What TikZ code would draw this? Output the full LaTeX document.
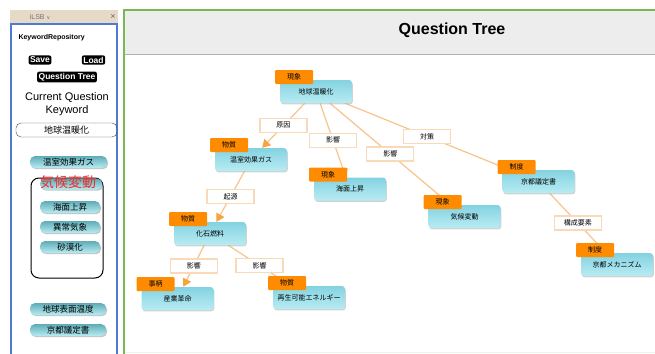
\documentclass[tikz,border=0pt]{standalone}
\usepackage{fontspec}
\setmainfont{Liberation Sans}
\newfontfamily\jp{Noto Sans CJK JP}
\newfontfamily\symfont{DejaVu Sans}
\usetikzlibrary{arrows.meta,shadows}

\definecolor{tagorange}{HTML}{FF8C00}
\definecolor{edgeorange}{HTML}{F8C48C}
\definecolor{tiporange}{HTML}{F7A43C}
\definecolor{labelline}{HTML}{FAD9B8}
\definecolor{boxtop}{HTML}{84D2E1}
\definecolor{boxbottom}{HTML}{B8ECF3}
\definecolor{panelblue}{HTML}{4E7BCF}
\definecolor{panelgreen}{HTML}{78B855}
\definecolor{tabbeige}{HTML}{E6D9C7}
\definecolor{titlegray}{HTML}{EDEDED}
\definecolor{keyred}{HTML}{F52A2A}

\pgfdeclarelayer{back}
\pgfdeclarelayer{bg}
\pgfsetlayers{back,bg,main}

\begin{document}
\begin{tikzpicture}[x=1pt,y=-1pt,
  concept/.style={rounded corners=3pt,minimum width=72pt,minimum height=23pt,
    inner sep=0pt,top color=boxtop,bottom color=boxbottom,draw=none,
    drop shadow={shadow xshift=0.8pt,shadow yshift=-1.4pt,fill=black!35},
    font=\fontsize{7}{8}\selectfont\jp},
  tag/.style={rounded corners=1pt,minimum width=38pt,minimum height=14pt,
    inner sep=0pt,fill=tagorange,anchor=north west,font=\fontsize{7}{8}\selectfont\jp},
  elabel/.style={draw=labelline,fill=white,text=black,minimum width=47pt,minimum height=14pt,
    inner sep=0pt,font=\fontsize{7}{8}\selectfont\jp},
  edge/.style={edgeorange,line width=1.2pt,
    -{Triangle[length=8pt,width=9pt,color=tiporange,fill=tiporange]}},
  pill/.style={rounded corners=5pt,minimum height=12pt,inner sep=0pt,
    top color=boxtop!90!cyan!80!black,bottom color=boxbottom,
    drop shadow={shadow xshift=1pt,shadow yshift=-1.2pt,fill=black!45},
    font=\fontsize{8.5}{9}\selectfont\jp},
  blackbtn/.style={fill=black,rounded corners=2pt,inner sep=1.5pt,text=white,
    font=\fontsize{8.5}{9}\selectfont\bfseries}]
\useasboundingbox (0,0) rectangle (655,353);

% window frames
\begin{pgfonlayer}{back}
\fill[white] (0,0) rectangle (655,353);
\fill[tabbeige] (10,10) rectangle (118,23);
\fill[titlegray] (125,11) rectangle (655,54);
\draw[black!30,line width=1.5pt] (125,54.5) -- (655,54.5);
\draw[green!40!black!8,line width=1pt] (125,352) -- (655,352);
\end{pgfonlayer}
\node[font=\fontsize{7}{8}\selectfont,text=black!55] (tabname) at (40,17) {iLSB {\symfont\fontsize{5}{6}\selectfont∨}};
\node[font=\fontsize{9}{9}\selectfont,text=black!60] (tabclose) at (113,17) {×};
\draw[panelblue,line width=2pt] (11,356) -- (11,24.5) -- (117,24.5) -- (117,356);
\draw[panelgreen,line width=2pt] (124,356) -- (124,10) -- (656,10);
\node[font=\fontsize{16}{18}\selectfont\bfseries] (title) at (452,30) {Question Tree};

% keyword repository panel
\node[font=\fontsize{7}{8}\selectfont\bfseries,anchor=west] (repo) at (15,38) {KeywordRepository};
\node[blackbtn] (save) at (40,60) {Save};
\node[blackbtn] (load) at (93.5,60) {Load};
\node[blackbtn] (qtree) at (67,77) {Question Tree};
\node[font=\fontsize{11}{13}\selectfont,align=center] (current) at (67,104) {Current Question\\Keyword};
\node[draw=black!70,rounded corners=5pt,minimum width=101pt,minimum height=14pt,
  inner sep=0pt,font=\fontsize{9}{10}\selectfont\jp] (currentkw) at (66.5,130) {地球温暖化};
\node[pill,minimum width=77pt] (r-gas) at (68.5,162) {温室効果ガス};
\draw[black,line width=1pt,rounded corners=8pt] (31,178) rectangle (103,278);
\node[pill,minimum width=62pt,minimum height=11pt] (r-kikopill) at (71,184) {};
\node[text=keyred,font=\fontsize{14}{15}\selectfont\jp] (r-kiko) at (68,182) {気候変動};
\node[pill,minimum width=60pt] (r-kaimen) at (70,207) {海面上昇};
\node[pill,minimum width=60pt] (r-ijo) at (70,227) {異常気象};
\node[pill,minimum width=60pt] (r-sabaku) at (70,247) {砂漠化};
\node[pill,minimum width=76pt] (r-hyomen) at (68,309) {地球表面温度};
\node[pill,minimum width=76pt] (r-kyoto) at (68,330) {京都議定書};

% question tree
\node[concept] (ondanka) at (316,91.5) {地球温暖化};
\node[concept] (gas) at (251,159.5) {温室効果ガス};
\node[concept] (nenryo) at (210,233.5) {化石燃料};
\node[concept] (kaimen) at (350,189) {海面上昇};
\node[concept] (kiko) at (464.5,216.5) {気候変動};
\node[concept] (kyoto) at (538.5,181.5) {京都議定書};
\node[concept] (mech) at (617,264.5) {京都メカニズム};
\node[concept] (sangyo) at (177.5,298.5) {産業革命};
\node[concept] (saisei) at (309,297.5) {再生可能エネルギー};

\begin{pgfonlayer}{bg}
\draw[edge] (ondanka) -- node[elabel] (l-gen) {原因} (gas);
\draw[edge] (ondanka) -- node[elabel] (l-eik1) {影響} (kaimen);
\draw[edge] (ondanka) -- node[elabel] (l-eik2) {影響} (kiko);
\draw[edge] (ondanka) -- node[elabel] (l-taisaku) {対策} (kyoto);
\draw[edge] (gas) -- node[elabel] (l-kigen) {起源} (nenryo);
\draw[edge] (nenryo) -- node[elabel] (l-eik3) {影響} (sangyo);
\draw[edge] (nenryo) -- node[elabel] (l-eik4) {影響} (saisei);
\draw[edge] (kyoto) -- node[elabel] (l-kosei) {構成要素} (mech);
\end{pgfonlayer}

\node[tag] (t-ondanka) at ([shift={(-5pt,10pt)}]ondanka.north west) {現象};
\node[tag] (t-gas) at ([shift={(-5pt,10pt)}]gas.north west) {物質};
\node[tag] (t-nenryo) at ([shift={(-5pt,10pt)}]nenryo.north west) {物質};
\node[tag] (t-kaimen) at ([shift={(-5pt,10pt)}]kaimen.north west) {現象};
\node[tag] (t-kiko) at ([shift={(-5pt,10pt)}]kiko.north west) {現象};
\node[tag] (t-kyoto) at ([shift={(-5pt,10pt)}]kyoto.north west) {制度};
\node[tag] (t-mech) at ([shift={(-5pt,10pt)}]mech.north west) {制度};
\node[tag] (t-sangyo) at ([shift={(-5pt,10pt)}]sangyo.north west) {事柄};
\node[tag] (t-saisei) at ([shift={(-5pt,10pt)}]saisei.north west) {物質};
\end{tikzpicture}
\end{document}
